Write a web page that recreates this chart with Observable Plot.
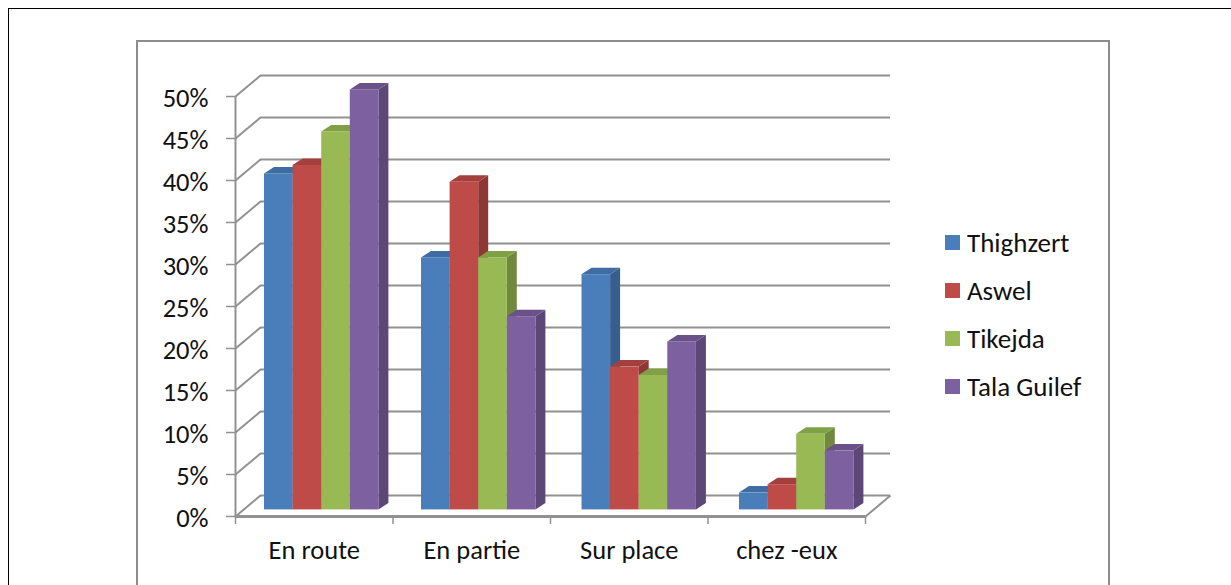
<!DOCTYPE html>
<html>
<head>
<meta charset="utf-8">
<script src="https://cdn.jsdelivr.net/npm/d3@7"></script>
<script src="https://cdn.jsdelivr.net/npm/@observablehq/plot@0.6"></script>
<style>
html,body{margin:0;padding:0;background:#fff;overflow:hidden;width:1231px;height:585px}
#wrap{position:relative;width:1231px;height:585px;overflow:hidden;font-family:Carlito,Lato,sans-serif;color:#111}
#outer{position:absolute;left:8px;top:8px;width:1400px;height:700px;border:1px solid #000;box-sizing:border-box}
#inner{position:absolute;left:136px;top:40px;width:974px;height:700px;border:2px solid #8c8c8c;box-sizing:border-box}
#chart{position:absolute;left:0;top:0}
.lg{position:absolute;left:945px;height:15px;font-size:27px;line-height:15px;white-space:nowrap}
.lg i{position:absolute;left:0;top:0;width:15px;height:15px}
.lg span{position:absolute;left:22px;top:0}
</style>
</head>
<body>
<div id="wrap"><div id="outer"></div><div id="inner"></div><div id="chart"></div><div id="legend"></div></div>
<script>
const categories = ["En route", "En partie", "Sur place", "chez -eux"];
const seriesNames = ["Thighzert", "Aswel", "Tikejda", "Tala Guilef"];
const thighzert = [40, 30, 28, 2];
const aswel = [41, 39, 17, 3];
const tikejda = [45, 30, 16, 9];
const talaGuilef = [50, 23, 20, 7];
const seriesValues = [thighzert, aswel, tikejda, talaGuilef];
const frontColors = ["#4a7ebb", "#be4b48", "#98b954", "#7d60a0"];
const sideColors = ["#375e8c", "#8e3836", "#71893f", "#5d4776"];
const topColors = ["#3f6ca2", "#a33f3d", "#80a045", "#6a5188"];
const yTicks = d3.range(0, 51, 5);
const gridColor = "#919191";

// depth of the box (in data units: categories on x, percent on y)
const wallDx = 25 / 157.5, wallDy = 21 / 8.4;
const barDx = 10 / 157.5, barDy = 6.5 / 8.4;
const groupGap = [29, 28.5, 31.5, 31.5].map(d => d / 157.5);
const barW = 28.6 / 157.5, baseY = 6.6 / 8.4;

const barMarks = seriesValues.flatMap((vals, s) => {
  const rows = vals.map((v, c) => ({
    c, x1: c + groupGap[c] + s * barW, x2: c + groupGap[c] + (s + 1) * barW, y1: baseY, y2: baseY + v
  }));
  const side = rows.flatMap(r => [
    {c: r.c, x: r.x2, y1: r.y1, y2: r.y2},
    {c: r.c, x: r.x2 + barDx, y1: r.y1 + barDy, y2: r.y2 + barDy}
  ]);
  const top = rows.flatMap(r => [
    {c: r.c, y: r.y2, x1: r.x1, x2: r.x2},
    {c: r.c, y: r.y2 + barDy, x1: r.x1 + barDx, x2: r.x2 + barDx}
  ]);
  return [
    Plot.areaY(side, {x: "x", y1: "y1", y2: "y2", z: "c", fill: sideColors[s]}),
    Plot.areaX(top, {y: "y", x1: "x1", x2: "x2", z: "c", fill: topColors[s]}),
    Plot.rect(rows, {x1: "x1", x2: "x2", y1: "y1", y2: "y2", fill: frontColors[s]})
  ];
});

const chart = Plot.plot({
  width: 1231, height: 585,
  marginLeft: 235, marginRight: 366, marginTop: 96, marginBottom: 69,
  style: {background: "transparent", fontFamily: "Carlito,Lato,sans-serif", color: "#111"},
  x: {type: "linear", domain: [0, 4], axis: null},
  y: {type: "linear", domain: [0, 50], axis: null},
  marks: [
    Plot.ruleY(yTicks, {y: d => d + wallDy, x1: wallDx, x2: 4 + wallDx, stroke: gridColor, strokeWidth: 2}),
    Plot.link(yTicks, {x1: 0, x2: wallDx, y1: d => d, y2: d => d + wallDy, stroke: gridColor, strokeWidth: 2}),
    Plot.link([0], {x1: 4, x2: 4 + wallDx, y1: 0, y2: wallDy, stroke: gridColor, strokeWidth: 2}),
    Plot.ruleX([0], {y1: 0, y2: 50, stroke: gridColor, strokeWidth: 2}),
    Plot.ruleY([0], {x1: 0, x2: 4, stroke: gridColor, strokeWidth: 3}),
    ...barMarks,
    Plot.axisY({ticks: yTicks, tickSize: 9, tickFormat: () => "", stroke: gridColor, strokeWidth: 1.5, strokeOpacity: 1, label: null}),
    Plot.axisY({ticks: yTicks, tickSize: 0, tickPadding: 27, dy: 2, tickFormat: d => d + "%", fontSize: 26.5, label: null, fill: "#111"}),
    Plot.axisX({ticks: [0, 1, 2, 3, 4], tickSize: 8, tickFormat: () => "", stroke: gridColor, strokeWidth: 1.5, strokeOpacity: 1, label: null}),
    Plot.axisX({ticks: [0.5, 1.5, 2.5, 3.5], tickSize: 0, tickPadding: 24, tickFormat: d => categories[d - 0.5], fontSize: 26.5, label: null, fill: "#111"})
  ]
});
document.getElementById("chart").appendChild(chart);

const legend = document.getElementById("legend");
seriesNames.forEach((name, i) => {
  const row = document.createElement("div");
  row.className = "lg";
  row.style.top = (235 + i * 48) + "px";
  row.innerHTML = `<i style="background:${frontColors[i]}"></i><span>${name}</span>`;
  legend.appendChild(row);
});
</script>
</body>
</html>
